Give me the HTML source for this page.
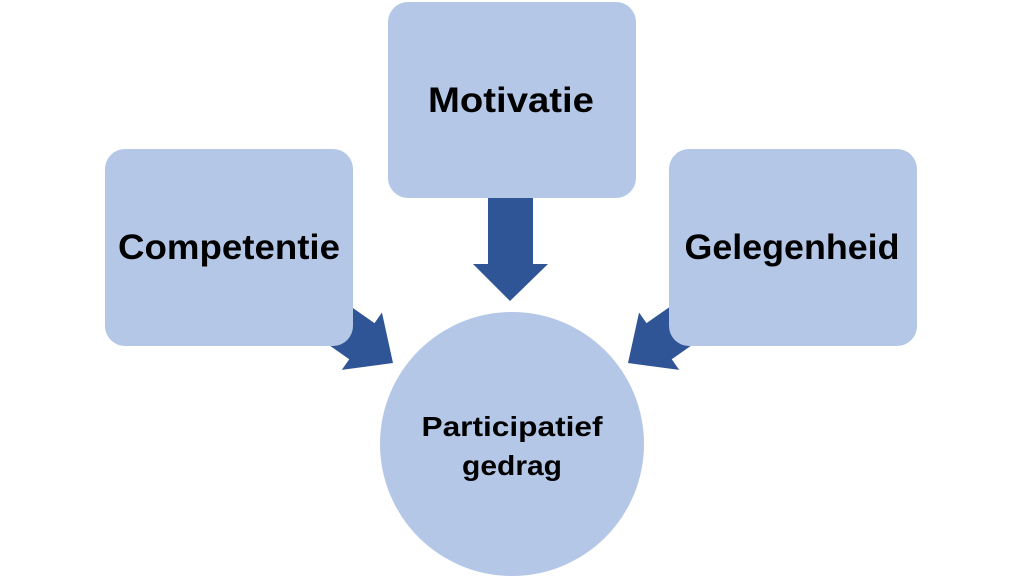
<!DOCTYPE html>
<html><head><style>
body{margin:0;width:1024px;height:576px;background:#fff;overflow:hidden}
</style></head><body>
<svg width="1024" height="576" xmlns="http://www.w3.org/2000/svg" style="font-family:'Liberation Sans',sans-serif;font-weight:bold">
<g fill="#2f5597">
<polygon transform="translate(393,363) rotate(35)" points="0,0 -38,-35 -38,-22 -160,-22 -160,22 -38,22 -38,35"/>
<polygon transform="translate(628,363) rotate(145)" points="0,0 -38,-35 -38,-22 -160,-22 -160,22 -38,22 -38,35"/>
<polygon points="488,195 533,195 533,264 548,264 510,301 473,264 488,264"/>
</g>
<g fill="#b4c7e7">
<rect x="388" y="2" width="248" height="196" rx="20"/>
<rect x="105" y="149" width="248" height="197" rx="20"/>
<rect x="669" y="149" width="248" height="197" rx="20"/>
<circle cx="512" cy="444" r="132"/>
</g>
<g fill="#000" text-anchor="middle">
<text x="511" y="112" font-size="35" textLength="166" lengthAdjust="spacingAndGlyphs">Motivatie</text>
<text x="229" y="259" font-size="35" textLength="222" lengthAdjust="spacingAndGlyphs">Competentie</text>
<text x="792" y="259" font-size="35" textLength="215" lengthAdjust="spacingAndGlyphs">Gelegenheid</text>
<text x="512" y="436" font-size="28" textLength="181" lengthAdjust="spacingAndGlyphs">Participatief</text>
<text x="512" y="475" font-size="28" textLength="100" lengthAdjust="spacingAndGlyphs">gedrag</text>
</g>
</svg>
</body></html>
